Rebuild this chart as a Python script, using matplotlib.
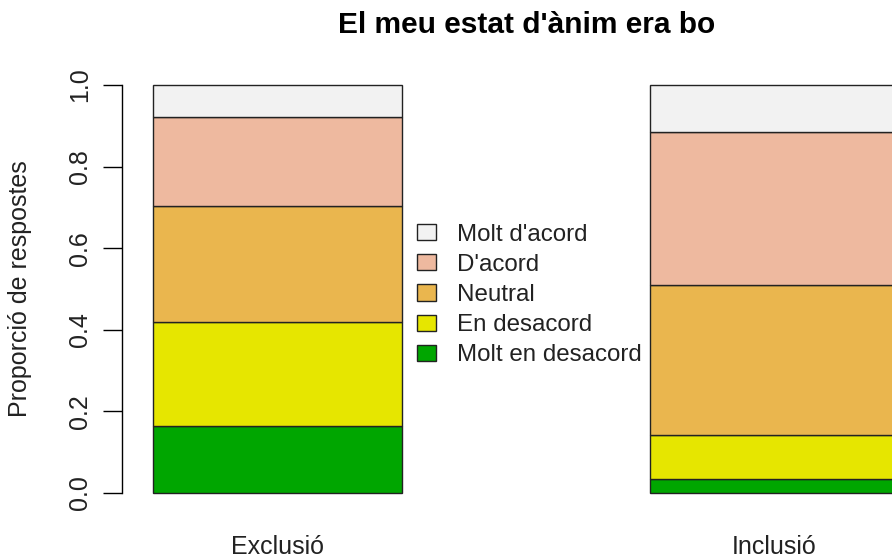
import matplotlib
matplotlib.use("Agg")
import matplotlib.pyplot as plt
from matplotlib.patches import Patch
import numpy as np

plt.rcParams['font.family'] = ['Liberation Sans', 'DejaVu Sans']

categories = ["Exclusió", "Inclusió"]
levels = ["Molt en desacord", "En desacord", "Neutral", "D'acord", "Molt d'acord"]
colors = ["#00A600", "#E6E600", "#EAB64E", "#EEB99F", "#F2F2F2"]
exclusio = [0.163, 0.255, 0.286, 0.217, 0.079]
inclusio = [0.034, 0.108, 0.368, 0.376, 0.114]
yticks = [0.0, 0.2, 0.4, 0.6, 0.8, 1.0]
ytick_labels = ["0.0", "0.2", "0.4", "0.6", "0.8", "1.0"]

W, H = 892, 557
fig = plt.figure(figsize=(W / 100, H / 100), dpi=100)
ax = fig.add_axes([122 / W, (H - 493) / H, (W - 122) / W, (493 - 85) / H])

data = np.array([exclusio, inclusio]).T  # levels x categories
xpos = np.array([1.0, 3.0])
bottom = np.zeros(len(categories))
for i, lev in enumerate(levels):
    ax.bar(xpos, data[i], bottom=bottom, width=1.0, color=colors[i],
           edgecolor="#222222", linewidth=1.0, clip_on=False)
    bottom += data[i]

ax.set_xlim(0.375, 0.375 + (W - 122) / 248.5)
ax.set_ylim(0, 1)
for s in ["top", "right", "bottom"]:
    ax.spines[s].set_visible(False)
ax.spines["left"].set_linewidth(1.0)

ax.set_yticks(yticks)
ax.set_yticklabels(ytick_labels, rotation=90, va="center", fontsize=18, color="#222222")
ax.tick_params(axis="y", length=14, width=1.0, pad=7.7)

ax.set_xticks(xpos)
ax.set_xticklabels(categories, fontsize=18, color="#222222")
ax.tick_params(axis="x", length=0, pad=30)

fig.text(20 / W, 1 - 289 / H, "Proporció de respostes", rotation=90,
         ha="center", va="center", fontsize=18, color="#222222")
fig.text(527 / W, 1 - 25 / H, "El meu estat d'ànim era bo", ha="center",
         va="center", fontsize=21.5, fontweight="bold", color="#000000")

handles = [Patch(facecolor=colors[i], edgecolor="#222222", linewidth=1.0)
           for i in range(len(levels) - 1, -1, -1)]
labels = levels[::-1]
fig.legend(handles, labels, loc="center left",
           bbox_to_anchor=(417 / W, 1 - 295 / H), frameon=False,
           fontsize=17.4, borderpad=0, borderaxespad=0,
           handlelength=0.8, handleheight=0.66, handletextpad=0.87,
           labelspacing=0.34, labelcolor="#222222")

fig.savefig("out.png", dpi=100)
